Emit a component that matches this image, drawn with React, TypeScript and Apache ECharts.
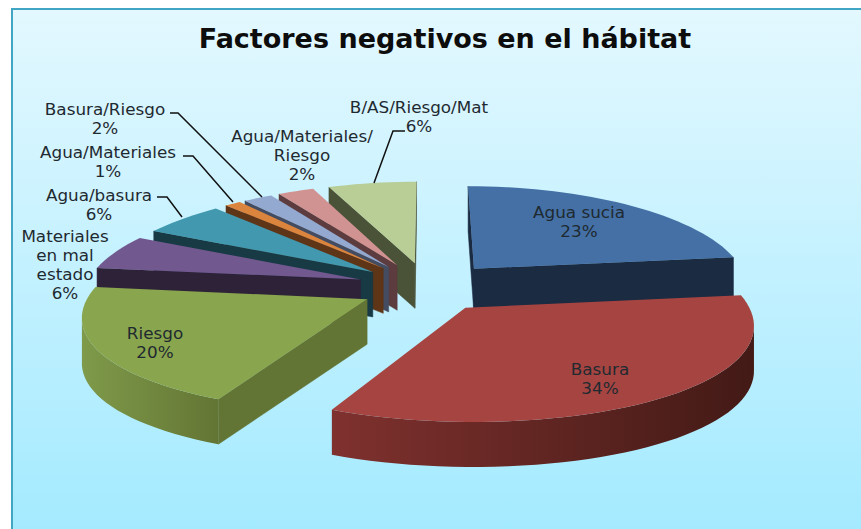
import React, { useEffect, useRef } from "react";
import * as echarts from "echarts";

const chartTitle = "Factores negativos en el hábitat";
const categories = ["Agua sucia", "Basura", "Riesgo", "Materiales en mal estado", "Agua/basura", "Agua/Materiales", "Basura/Riesgo", "Agua/Materiales/Riesgo", "B/AS/Riesgo/Mat"];
const values = [23, 34, 20, 5.7, 5.6, 1.1, 2.0, 2.49, 6.11];
const wrappedNames = ["Agua sucia", "Basura", "Riesgo", "Materiales\nen mal\nestado", "Agua/basura", "Agua/Materiales", "Basura/Riesgo", "Agua/Materiales/\nRiesgo", "B/AS/Riesgo/Mat"];
const topColors = ["#4470a6", "#a64441", "#89a54e", "#71588f", "#4198af", "#db843d", "#93a9cf", "#d19392", "#b9cd96"];
const sideColors = ["#1a2b42", "#431a16", "#637534", "#2e2238", "#173a45", "#5e3517", "#434c60", "#5c3c3e", "#4a5338"];
const arcLeftColors = ["#1a2b42", "#7f312e", "#7f9a4a", "#2e2238", "#173a45", "#5e3517", "#434c60", "#5c3c3e", "#4a5338"];
const paintOrder = [8, 7, 6, 5, 4, 3, 0, 2, 1];
const sliceNudgeX = [0, -6, 3, 0, 0, 0, 0, 0, 0];
const labelCentres = [[579, 222], [600, 379], [155, 343], [65, 265], [99, 205], [108, 162], [105, 119], [302, 156], [419, 117]];
const leaders = [
  [[170, 113], [178, 113], [262, 197]],
  [[183, 156], [193, 156], [233, 202]],
  [[157, 197], [167, 197], [182, 217]],
  [[405, 131], [393, 131], [374, 183]],
];

const total = values.reduce((a, b) => a + b, 0);
const starts: number[] = [];
values.reduce((acc, v, i) => { starts[i] = acc; return acc + v; }, 0);

const CX = 428, CY = 287, RX = 275, RY = 96, PERSP_X = 0.15, PERSP_Y = 0.115, EXPLODE = 0.26, THICK = 45;

function project(x: number, z: number, drop: number, nudge: number) {
  const sx = 1 / (1 + PERSP_X * z);
  const sy = 1 / (1 + PERSP_Y * z);
  return [CX + nudge + RX * x * sx, CY - RY * z * sy + THICK * drop];
}

function area(a: number[], b: number[], c: number[], d: number[]) {
  const p = [a, b, c, d];
  let sum = 0;
  for (let i = 0; i < 4; i++) {
    const q = p[(i + 1) % 4];
    sum += p[i][0] * q[1] - q[0] * p[i][1];
  }
  return sum;
}

function renderSlice(params: any, api: any) {
  const index = api.value(0);
  const value = api.value(1);
  const start = api.value(2);
  const nudge = sliceNudgeX[index];
  const a0 = (start / total) * Math.PI * 2;
  const a1 = ((start + value) / total) * Math.PI * 2;
  const mid = (a0 + a1) / 2;
  const ox = EXPLODE * Math.sin(mid);
  const oz = EXPLODE * Math.cos(mid);
  const steps = Math.max(6, Math.ceil(value * 1.5));
  const rim: number[][] = [];
  for (let k = 0; k <= steps; k++) {
    const t = a0 + ((a1 - a0) * k) / steps;
    rim.push([ox + Math.sin(t), oz + Math.cos(t)]);
  }
  const top = (p: number[]) => project(p[0], p[1], 0, nudge);
  const bot = (p: number[]) => project(p[0], p[1], 1, nudge);
  const apex = [ox, oz];
  const children: any[] = [];
  const wall = (p: number[], q: number[]) => {
    if (area(top(p), top(q), bot(q), bot(p)) < 0) {
      children.push({ type: "polygon", silent: true, shape: { points: [top(p), top(q), bot(q), bot(p)] }, style: { fill: sideColors[index], stroke: sideColors[index], lineWidth: 0.5 } });
    }
  };
  wall(apex, rim[0]);
  wall(rim[steps], apex);
  const visible: number[][] = [];
  for (let k = 0; k < steps; k++) {
    if (area(top(rim[k]), top(rim[k + 1]), bot(rim[k + 1]), bot(rim[k])) < 0) {
      if (!visible.length) visible.push(rim[k]);
      visible.push(rim[k + 1]);
    }
  }
  if (visible.length) {
    const points = [...visible.map(top), ...visible.slice().reverse().map(bot)];
    children.push({
      type: "polygon", silent: true, shape: { points },
      style: { fill: new echarts.graphic.LinearGradient(0, 0, 1, 0, [{ offset: 0, color: arcLeftColors[index] }, { offset: 1, color: sideColors[index] }]) },
    });
  }
  children.push({ type: "polygon", silent: true, shape: { points: [top(apex), ...rim.map(top)] }, style: { fill: topColors[index] } });
  return { type: "group", children };
}

const textColor = "#1f2a30";

export default function App() {
  const ref = useRef<HTMLDivElement>(null);
  useEffect(() => {
    document.body.style.margin = "0";
    const chart = echarts.init(ref.current!, undefined, { renderer: "svg" });
    const labelEls = categories.map((_, i) => ({
      type: "text", silent: true, x: labelCentres[i][0], y: labelCentres[i][1], scaleX: 1.12, z: 10,
      style: {
        text: `${wrappedNames[i]}\n${Math.round(values[i])}%`, align: "center", verticalAlign: "middle",
        font: '15px "DejaVu Sans"', lineHeight: 19, fill: textColor,
      },
    }));
    const leaderEls = leaders.map((points) => ({
      type: "polyline", silent: true, z: 10, shape: { points }, style: { stroke: "#111", lineWidth: 1.5, fill: "none" },
    }));
    chart.setOption({
      animation: false,
      title: { text: chartTitle, left: 440, top: 20, textAlign: "center", textStyle: { fontFamily: "DejaVu Sans", fontWeight: "bold", fontSize: 27, color: "#0d0d0d" } },
      graphic: [
        {
          type: "rect", silent: true, z: -10, shape: { x: 12, y: 9, width: 860, height: 530 },
          style: {
            fill: new echarts.graphic.LinearGradient(0, 0, 0, 1, [{ offset: 0, color: "#e3f8ff" }, { offset: 1, color: "#a3eaff" }]),
            stroke: "#41a6c4", lineWidth: 2,
          },
        },
        ...labelEls,
        ...leaderEls,
      ],
      series: [{
        type: "custom", coordinateSystem: "none", silent: true, z: 2,
        renderItem: renderSlice,
        data: paintOrder.map((i) => [i, values[i], starts[i]]),
      }],
    });
    return () => chart.dispose();
  }, []);
  return <div ref={ref} style={{ width: 861, height: 529 }} />;
}
